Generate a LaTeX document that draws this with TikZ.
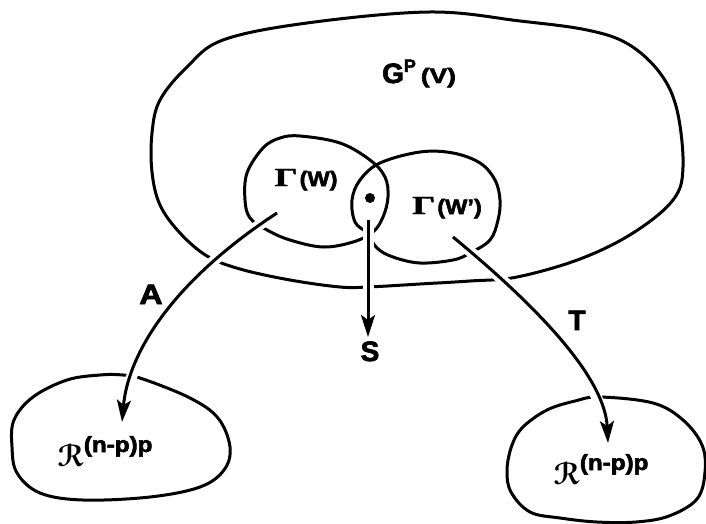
\documentclass[tikz,border=0pt]{standalone}
\usepackage{fontspec}
\setmainfont{Liberation Sans}[BoldFeatures={FakeBold=2.5}]
\newfontfamily\grk{Liberation Serif}[FakeBold=1.2]
\usepackage{graphicx}
\usetikzlibrary{arrows.meta}
\DeclareFontFamily{U}{myeus}{}
\DeclareFontShape{U}{myeus}{b}{n}{<-> eusb10}{}
\newcommand{\scrR}[1]{{\fontsize{#1}{#1}\usefont{U}{myeus}{b}{n}R}}
\newcommand{\fsz}[1]{\fontsize{#1}{#1}\selectfont}
\begin{document}
\begin{tikzpicture}[x=1pt,y=-1pt,
  outline/.style={line width=3pt, line join=round},
  arr/.style={line width=3pt, -{Stealth[length=22pt,width=14pt,inset=5pt]},
              preaction={draw=white,line width=11pt,-}},
  lbl/.style={inner sep=0pt, anchor=base, font=\bfseries}]
\useasboundingbox (0,0) rectangle (706,524);

% big set G^P(V)
\draw[outline] plot[smooth cycle, tension=0.6] coordinates {
 (430,12) (520,21) (587,30) (628,44) (660,73) (677,110) (683,167) (673,200)
 (633,233) (580,259) (517,277) (470,281) (420,284) (368,287) (340,287)
 (290,280) (240,269) (207,256) (180,233) (160,205) (152,172) (152,133)
 (160,100) (187,67) (223,40) (307,23)};

% Gamma(W)
\draw[outline] plot[smooth cycle, tension=0.6] coordinates {
 (300,136) (340,143) (370,160) (385,177) (388,197) (383,217) (373,232)
 (353,242) (323,247) (290,240) (267,230) (250,218) (245,200) (247,173)
 (263,148) (280,138)};

% Gamma(W')
\draw[outline] plot[smooth cycle, tension=0.6] coordinates {
 (380,163) (420,152) (453,153) (480,163) (495,180) (500,200) (498,220)
 (490,240) (470,253) (453,260) (420,263) (393,257) (377,248) (367,233)
 (355,222) (352,200) (360,180)};

% left target set
\draw[outline] plot[smooth cycle, tension=0.6] coordinates {
 (123,375) (143,379) (190,398) (218,418) (230,447) (224,470) (200,487)
 (150,497) (83,500) (40,493) (17,473) (12,447) (14,420) (33,397) (67,380)
 (100,375)};

% right target set
\draw[outline] plot[smooth cycle, tension=0.6] coordinates {
 (600,397) (653,403) (683,420) (702,445) (705,472) (697,499) (669,516)
 (636,522) (597,522) (560,518) (530,512) (511,492) (507,470) (512,445)
 (523,427) (547,410) (575,401)};

% labels
\node[lbl] (gpv) at (419,83) {{\fsz{28}G}\raisebox{11pt}{\fsz{18}P}\hspace{5pt}\scalebox{1.25}[1]{\fsz{21}(V)}};
\node[lbl] (gw) at (306,186) {\scalebox{1.4}[1]{\grk\fsz{26}Γ}\hspace{2pt}\scalebox{1.12}[1]{\fsz{21}\bfseries (W)}};
\node[lbl] (gwp) at (447,214) {\scalebox{1.4}[1]{\grk\fsz{26}Γ}\hspace{2pt}\scalebox{1.12}[1]{\fsz{21}\bfseries (W')}};
\node[circle, fill=black, inner sep=0pt, minimum size=10pt] (dot) at (370,198) {};

\node[lbl] (la) at (151,304) {\scalebox{1.15}[1]{\fsz{28}A}};
\node[lbl] (ls) at (370,361) {\fsz{28}S};
\node[lbl] (lt) at (577,330) {\fsz{28}T};

\node[lbl] (rl) at (105,466) {\scrR{31}\hspace{1pt}\raisebox{14pt}{\scalebox{1.1}[1]{\fsz{22}\bfseries (n-p)p}}};
\node[lbl] (rr) at (601,484) {\scrR{31}\hspace{1pt}\raisebox{14pt}{\scalebox{1.1}[1]{\fsz{22}\bfseries (n-p)p}}};

% arrow end points
\coordinate (aS) at (277,213);
\coordinate (aE) at (122,422);
\coordinate (sS) at (368,220);
\coordinate (sE) at (368,337);
\coordinate (tS) at (453,237);
\coordinate (tE) at (608,443);

\draw[arr] (aS) .. controls (170,283) and (128,355) .. (aE);
\draw[arr] (sS) -- (sE);
\draw[arr] (tS) .. controls (545,313) and (605,380) .. (tE);
\end{tikzpicture}
\end{document}
